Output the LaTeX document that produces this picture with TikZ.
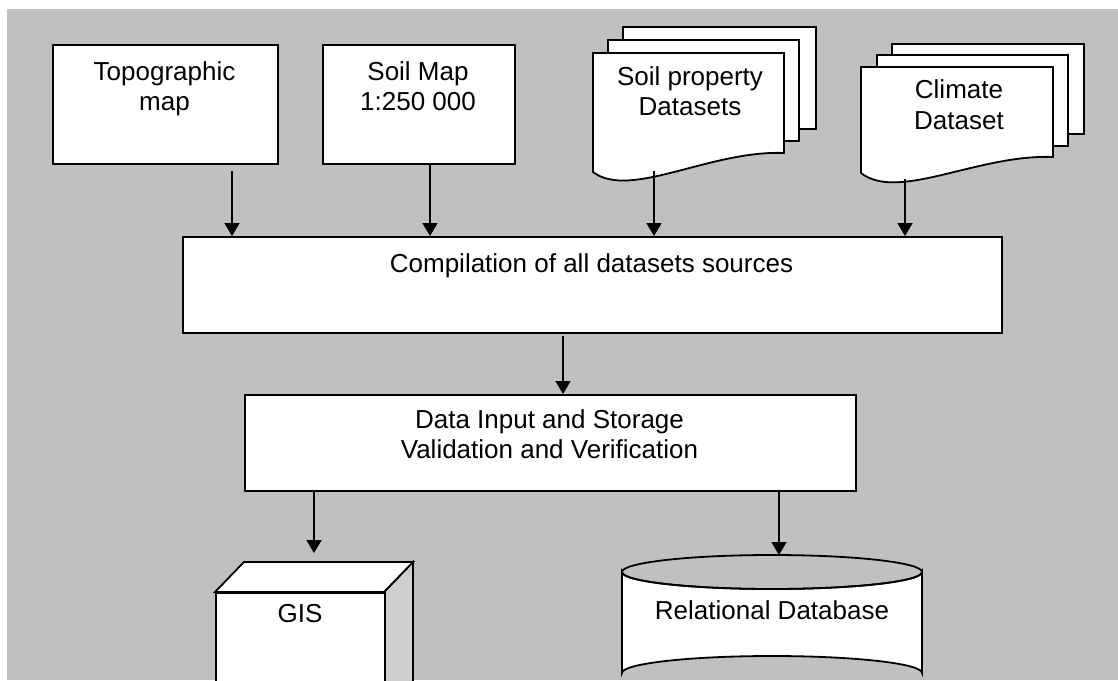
\documentclass[tikz,border=0pt]{standalone}
\usepackage{fontspec}
\setmainfont{Liberation Sans}
\usetikzlibrary{arrows.meta}
\definecolor{panel}{RGB}{192,192,192}
\definecolor{sideface}{RGB}{206,206,206}
\begin{document}
\begin{tikzpicture}[x=1pt,y=-1pt,
  box/.style={draw=black, line width=1.8pt, fill=white, rectangle, inner sep=0pt, anchor=north west},
  page/.style={draw=black, line width=1.8pt, fill=white, line join=miter},
  lbl/.style={font=\fontsize{26}{30}\selectfont, anchor=base, inner sep=0pt},
  arr/.style={draw=black, line width=1.8pt, -{Triangle[length=13pt,width=15pt]}}]
\useasboundingbox (0,0) rectangle (1118,680);
\clip (0,0) rectangle (1118,680);
% grey panel
\fill[panel] (7,9) rectangle (1118,680);

% source boxes
\node[box, minimum width=225pt, minimum height=119pt] (topo) at (52,44) {};
\node[lbl] (topoA) at (164.5,80) {Topographic};
\node[lbl] (topoB) at (164.5,110) {map};

\node[box, minimum width=192pt, minimum height=119pt] (soilmap) at (322,44) {};
\node[lbl] (soilA) at (418,80) {Soil Map};
\node[lbl] (soilB) at (418,110) {1:250 000};

% soil property document stack
\filldraw[page] (623,27) rectangle (816,129);
\filldraw[page] (608,40) rectangle (799,141);
\filldraw[page] (593,53) -- (784,53) -- (784,153)
  .. controls (710,150) and (630,200) .. (593,172) -- cycle;
\node[lbl] (propA) at (690,85) {Soil property};
\node[lbl] (propB) at (690,115) {Datasets};

% climate document stack
\filldraw[page] (892,44) rectangle (1084,134);
\filldraw[page] (877,55) rectangle (1068,146);
\filldraw[page] (861,67) -- (1053,67) -- (1053,157)
  .. controls (978,154) and (898,202) .. (861,173) -- cycle;
\node[lbl] (climA) at (959,98) {Climate};
\node[lbl] (climB) at (959,129) {Dataset};

% processing boxes
\node[box, minimum width=819pt, minimum height=96pt] (comp) at (182,236) {};
\node[lbl] (compT) at (591.5,272) {Compilation of all datasets sources};

\node[box, minimum width=611pt, minimum height=96pt] (input) at (244,394) {};
\node[lbl] (inA) at (549.5,428) {Data Input and Storage};
\node[lbl] (inB) at (549.5,458) {Validation and Verification};

% GIS cube
\filldraw[draw=black, line width=1.8pt, fill=sideface] (384,592) -- (413,562) -- (413,700) -- (384,730) -- cycle;
\filldraw[page] (215,592) -- (244,562) -- (413,562) -- (384,592) -- cycle;
\node[box, minimum width=169pt, minimum height=130pt] (gis) at (215,592) {};
\node[lbl] (gisT) at (300,622) {GIS};

% relational database cylinder
\filldraw[page] (622,572) -- (622,673) arc[start angle=180, end angle=360, x radius=150, y radius=17]
  -- (922,572) arc[start angle=0, end angle=180, x radius=150, y radius=17] -- cycle;
\draw[line width=1.8pt] (772,572) ellipse[x radius=150, y radius=17];
\node[lbl] (dbT) at (772,619) {Relational Database};

% connector end points
\coordinate (topoOut) at (232,171);
\coordinate (soilOut) at (430,163);
\coordinate (propOut) at (654,171);
\coordinate (climOut) at (905,179);
\coordinate (compOut) at (563,336);
\coordinate (gisOut) at (314,490);
\coordinate (gisIn) at (314,553);
\coordinate (dbOut) at (779,490);
\coordinate (dbIn) at (779,555);

% connectors
\draw[arr] (topoOut) -- (topoOut |- comp.north);
\draw[arr] (soilOut) -- (soilOut |- comp.north);
\draw[arr] (propOut) -- (propOut |- comp.north);
\draw[arr] (climOut) -- (climOut |- comp.north);
\draw[arr] (compOut) -- (compOut |- input.north);
\draw[arr] (gisOut) -- (gisIn);
\draw[arr] (dbOut) -- (dbIn);
\end{tikzpicture}
\end{document}
